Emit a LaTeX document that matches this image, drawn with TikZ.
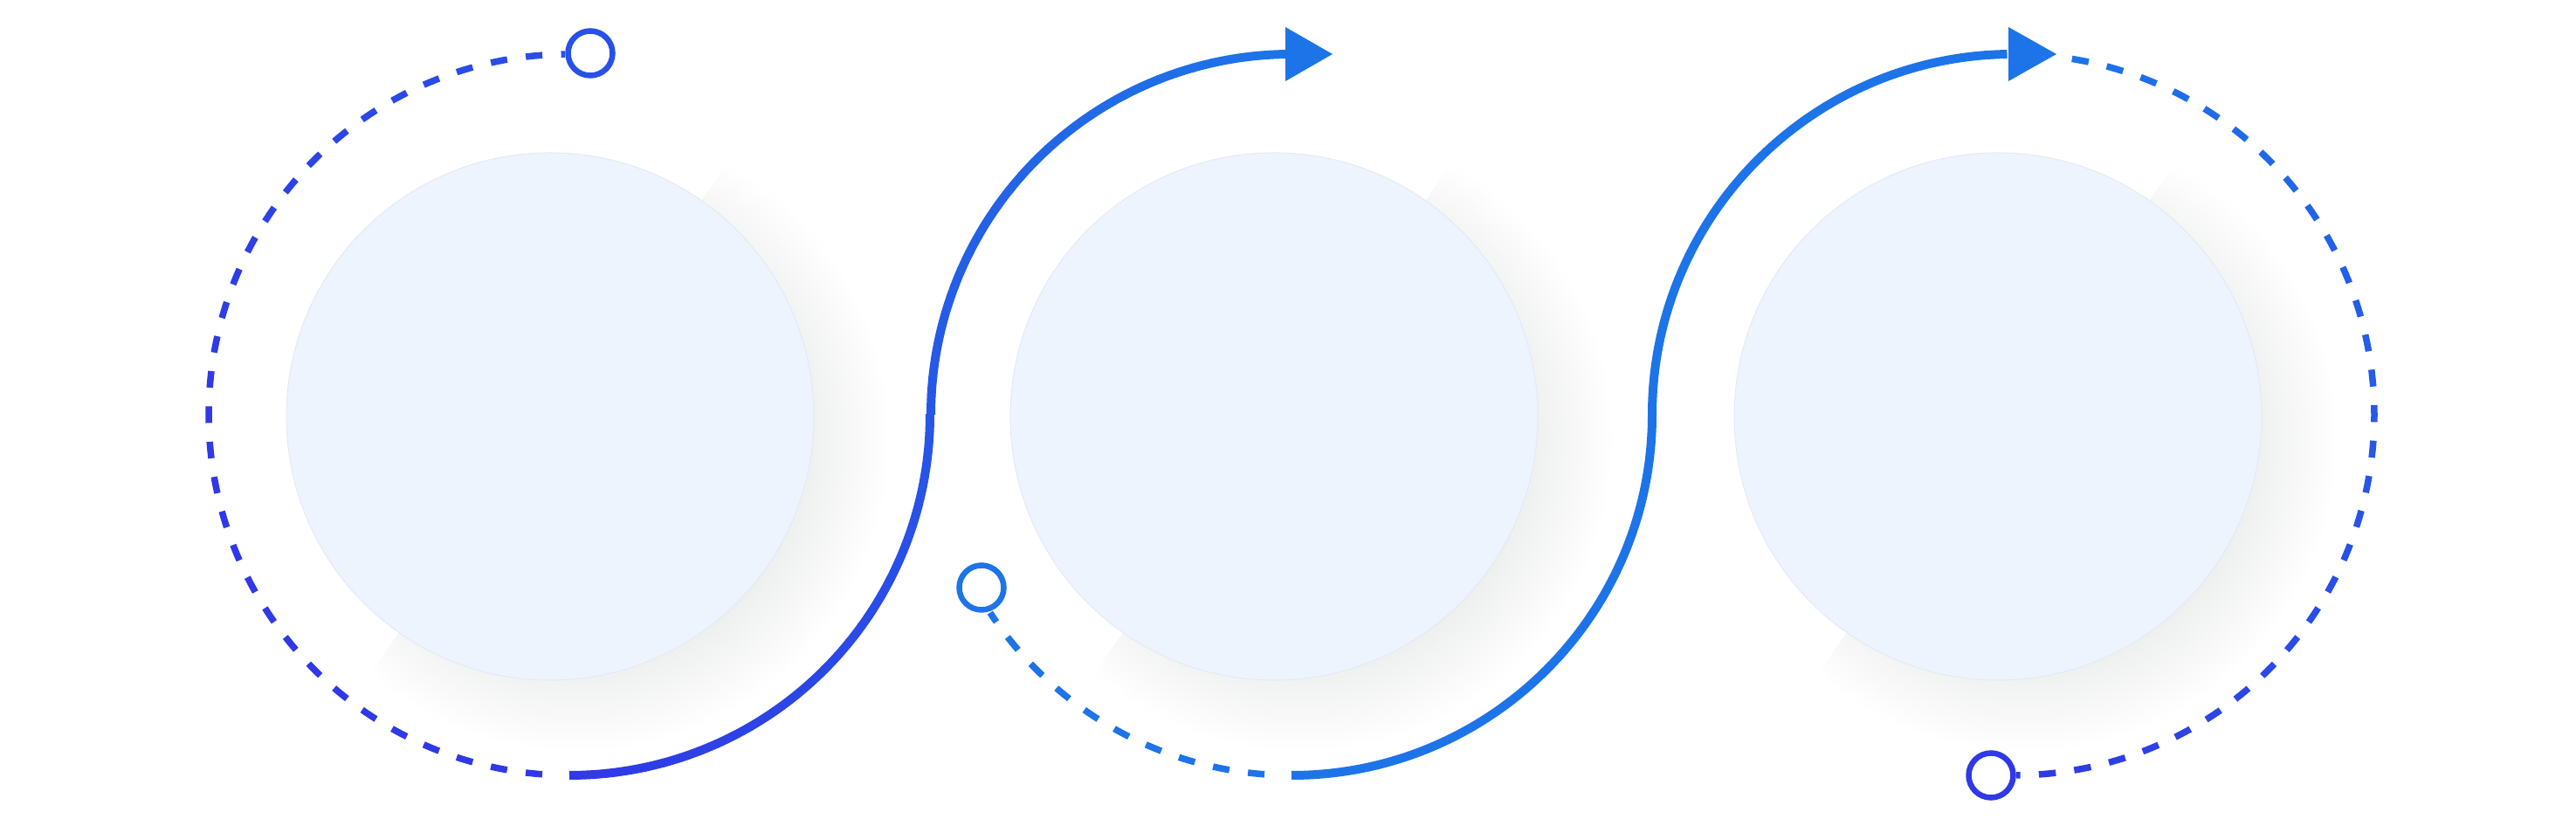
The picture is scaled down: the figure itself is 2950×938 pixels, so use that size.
\documentclass[tikz,border=0pt]{standalone}
\usepackage{tikz}
\usetikzlibrary{calc}
\usepackage{xcolor}

\definecolor{cV}{HTML}{3039E6}
\definecolor{cB}{HTML}{1D74E8}
\definecolor{discfill}{HTML}{EEF4FD}
\definecolor{discedge}{HTML}{E4EAF3}
\definecolor{shadowcore}{HTML}{EBECEC}
\pgfdeclareradialshading{discshade}{\pgfpoint{0bp}{0bp}}{color(0bp)=(shadowcore); color(17bp)=(shadowcore); color(25bp)=(white); color(50bp)=(white)}
\newcommand{\arcR}{41.3mm}

\begin{document}
\begin{tikzpicture}[x=0.1mm,y=0.1mm,
    disc/.style={circle,fill=discfill,draw=discedge,line width=0.1mm,minimum size=60.4mm,inner sep=0pt},
    ring/.style={circle,fill=white,line width=0.65mm,minimum size=5.1mm,inner sep=0pt},
    solidline/.style={line width=1.0mm},
    dashline/.style={line width=0.75mm}]
  \useasboundingbox (0,0) rectangle (2950,938);
  \coordinate (c1) at (652,463);
  \coordinate (c2) at (1479,463);
  \coordinate (c3) at (2306,463);
  \coordinate (d1) at (630,461);
  \coordinate (d2) at (1459,461);
  \coordinate (d3) at (2288,461);

  % soft shadows, lower right half only
  \foreach \n in {1,2,3} {
    \begin{scope}
      \clip ($(d\n)+(287,410)$) -- ($(d\n)+(-287,-410)$) -- ($(d\n)+(123,-697)$) -- ($(d\n)+(697,123)$) -- cycle;
      \shade[shading=discshade] ($(d\n)+(30,-25)$) circle [radius=36mm];
    \end{scope}
  }
  \node[disc] (disc1) at (d1) {};
  \node[disc] (disc2) at (d2) {};
  \node[disc] (disc3) at (d3) {};

  % left dashed half
  \foreach \k in {-1,...,30} {
    \pgfmathsetmacro\lo{max(90.7,94.3+5.625*\k)}
    \pgfmathsetmacro\hi{94.3+5.625*\k+2.64}
    \pgfmathsetmacro\pc{max(0,40-40*(\hi-90)/90)}
    \draw[dashline,draw=cB!\pc!cV] ([shift={(\lo:\arcR)}]c1) arc[start angle=\lo,end angle=\hi,radius=\arcR];
  }
  % first S curve
  \foreach \k in {0,...,29} {
    \pgfmathsetmacro\sa{270+3*\k}
    \pgfmathsetmacro\pc{100*\k/59}
    \draw[solidline,draw=cB!\pc!cV] ([shift={(\sa:\arcR)}]c1) arc[start angle=\sa,end angle=\sa+3.1,radius=\arcR];
  }
  \foreach \k in {0,...,29} {
    \pgfmathsetmacro\sa{180-\k*89/30}
    \pgfmathsetmacro\pc{100*(\k+30)/59}
    \draw[solidline,draw=cB!\pc!cV] ([shift={(\sa:\arcR)}]c2) arc[start angle=\sa,end angle=\sa-3.1,radius=\arcR];
  }
  % middle dashed part
  \foreach \k in {0,...,9} {
    \pgfmathsetmacro\hi{265.7-5.625*\k}
    \pgfmathsetmacro\lo{max(213.3,\hi-2.64)}
    \draw[dashline,draw=cB] ([shift={(\hi:\arcR)}]c2) arc[start angle=\hi,end angle=\lo,radius=\arcR];
  }
  % second S curve
  \draw[solidline,draw=cB] ([shift={(270:\arcR)}]c2) arc[start angle=270,end angle=360,radius=\arcR]
    arc[start angle=180,end angle=90.9,radius=\arcR];
  % right dashed half
  \foreach \k in {0,...,30} {
    \pgfmathsetmacro\hi{80.7-5.655*\k}
    \pgfmathsetmacro\lo{max(-89.6,\hi-2.7)}
    \pgfmathsetmacro\pc{(\hi+90)/1.71}
    \draw[dashline,draw=cB!\pc!cV] ([shift={(\hi:\arcR)}]c3) arc[start angle=\hi,end angle=\lo,radius=\arcR];
  }

  % arrow heads
  \coordinate (t2) at ($(c2)+(0,413)$);
  \coordinate (t3) at ($(c3)+(0,413)$);
  \fill[cB] ($(t2)+(-7,31)$) -- ($(t2)+(47,0)$) -- ($(t2)+(-7,-31)$) -- cycle;
  \fill[cB] ($(t3)+(-6,31)$) -- ($(t3)+(49,0)$) -- ($(t3)+(-6,-31)$) -- cycle;

  % end rings
  \node[ring,draw=cB!40!cV] (ring1) at (676,877) {};
  \node[ring,draw=cB] (ring2) at (1124,265) {};
  \node[ring,draw=cV] (ring3) at (2280,50) {};
\end{tikzpicture}
\end{document}
